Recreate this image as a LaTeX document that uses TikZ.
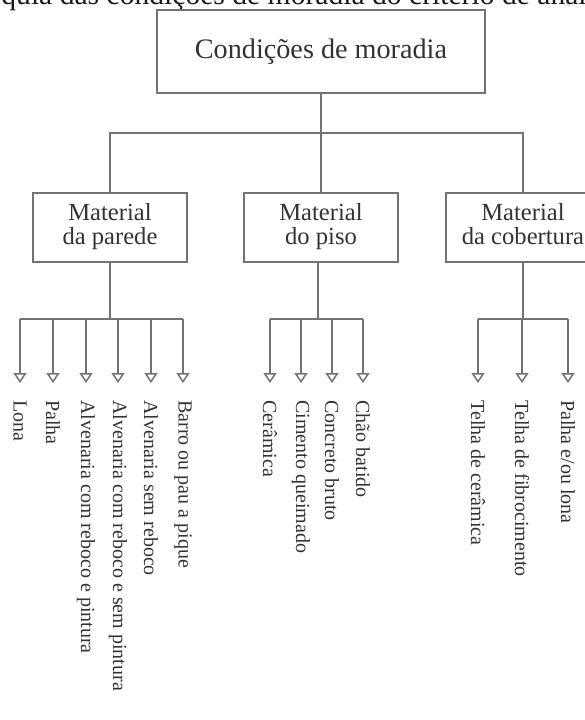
\documentclass[tikz,border=0pt]{standalone}
\usepackage{fontspec}
\setmainfont{Liberation Serif}
\usetikzlibrary{arrows.meta, positioning}
\definecolor{linegray}{gray}{0.45}
\definecolor{inkgray}{gray}{0.2}

\tikzset{
  box/.style={draw=linegray, line width=0.75pt, text=inkgray, inner sep=0pt, align=center},
  mainbox/.style={box, minimum width=164pt, minimum height=41.5pt, font=\fontsize{14.1}{16}\selectfont},
  catbox/.style={box, minimum width=77pt, minimum height=34.5pt, font=\fontsize{12.3}{11.8}\selectfont},
  leaf/.style={rotate=-90, anchor=west, inner sep=0pt, text=inkgray, font=\fontsize{10}{12}\selectfont},
  link/.style={draw=linegray, line width=0.75pt},
  tolabel/.style={link, -{Triangle[open, length=5pt, width=6.5pt]}, shorten >=8.5pt},
}

\begin{document}
\begin{tikzpicture}[x=0.5pt, y=-0.5pt]
\useasboundingbox (0,0) rectangle (585,720);
\clip (0,0) rectangle (585,720);

% Caption, cut at the top
\node[anchor=base west, inner sep=0pt, text=black!90, font=\fontsize{14.8}{16}\selectfont] (title) at (1,4)
  {\llap{Hierar}quia das condições de moradia do critério de análise};

% Top level
\node[mainbox] (top) at (321,51.5) {Condições de moradia};
\coordinate (hub) at (321,133);

% Categories
\node[catbox] (wall) at (110,227.5) {Material\\da parede\strut};
\node[catbox] (floor) at (321,227.5) {Material\\do piso\strut};
\node[catbox] (roof) at (523,227.5) {Material\\da cobertura\strut};

\draw[link] (top) -- (hub);
\draw[link] (wall.north) |- (hub) -| (roof.north);
\draw[link] (hub) -- (floor);

% Material da parede
\coordinate (wj) at (110,319);
\foreach \x/\txt [count=\i] in {20/Lona, 53/Palha, 86/Alvenaria com reboco e pintura,
    118/Alvenaria com reboco e sem pintura, 151/Alvenaria sem reboco, 183/Barro ou pau a pique}
  \node[leaf] (w\i) at (\x,400) {\txt};
\draw[link] (wall) -- (wj);
\draw[link] (w1 |- wj) -- (w6 |- wj);
\foreach \i in {1,...,6}
  \draw[tolabel] (w\i |- wj) -- (w\i);

% Material do piso
\coordinate (fj) at (318,319);
\foreach \x/\txt [count=\i] in {270/Cerâmica, 301/Cimento queimado, 332/Concreto bruto, 363/Chão batido}
  \node[leaf] (f\i) at (\x,400) {\txt};
\draw[link] (floor.south -| fj) -- (fj);
\draw[link] (f1 |- fj) -- (f4 |- fj);
\foreach \i in {1,...,4}
  \draw[tolabel] (f\i |- fj) -- (f\i);

% Material da cobertura
\coordinate (rj) at (523,319);
\foreach \x/\txt [count=\i] in {478/{Telha de cerâmica}, 522/{Telha de fibrocimento}, 568/{Palha e/ou lona}}
  \node[leaf] (r\i) at (\x,400) {\txt};
\draw[link] (roof) -- (rj);
\draw[link] (r1 |- rj) -- (r3 |- rj);
\foreach \i in {1,...,3}
  \draw[tolabel] (r\i |- rj) -- (r\i);
\end{tikzpicture}
\end{document}
